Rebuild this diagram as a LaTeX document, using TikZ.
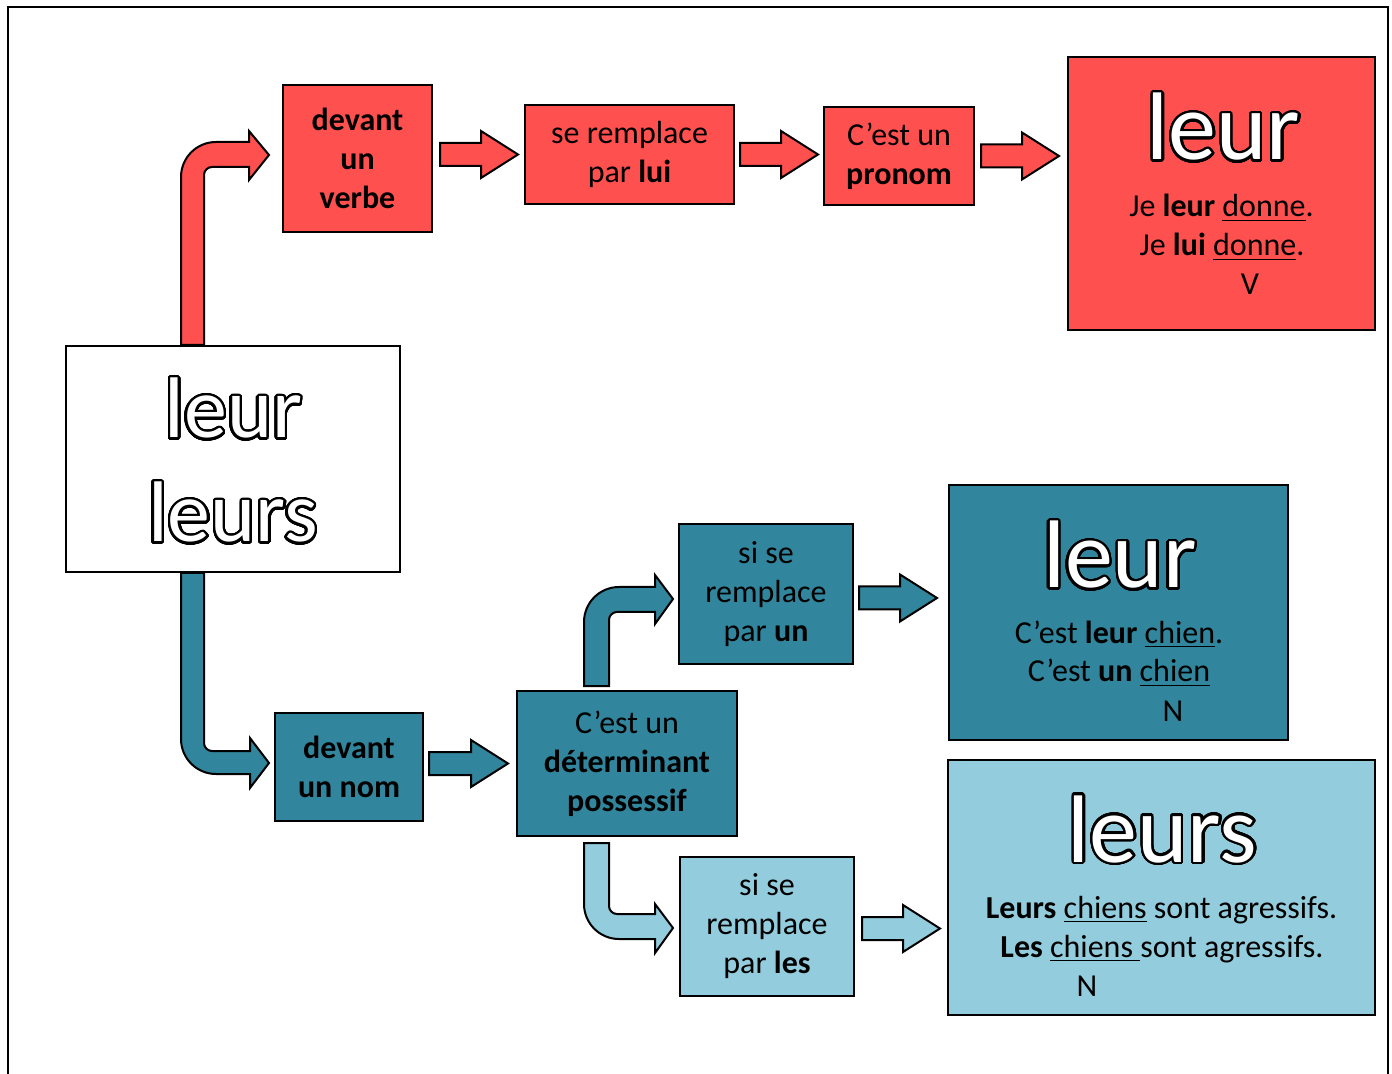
\documentclass[tikz,border=0pt]{standalone}
\usepackage{fontspec}
\setmainfont{Carlito}
\usepackage{xcolor}
\usepackage{contour}
\usetikzlibrary{calc}
\contourlength{1.2pt}
\contournumber{40}
\definecolor{rouge}{RGB}{255,80,80}
\definecolor{bleu}{RGB}{49,133,156}
\definecolor{bleuclair}{RGB}{147,205,221}
\newcommand{\grand}[1]{\textcolor{white}{\contour{black}{#1}}}
\newcommand{\souligne}[1]{\vtop{\hbox{#1}\kern1.2pt\hrule height 0.9pt}}
\newcommand{\flechedroite}[3]{%
\draw[bloc, fill=#1] ($(#2)+(0,-11.5)$) -- ($(#3)+(-37,-11.5)$) -- ($(#3)+(-37,-23.5)$) -- (#3)
  -- ($(#3)+(-37,23.5)$) -- ($(#3)+(-37,11.5)$) -- ($(#2)+(0,11.5)$) -- cycle;}

\begin{document}
\begin{tikzpicture}[x=0.5pt, y=-0.5pt,
  boite/.style={draw, line width=1pt, inner sep=0pt, align=center, font=\fontsize{16}{19.5}\selectfont},
  bloc/.style={draw, line width=1pt, line join=miter},
  texte/.style={anchor=base, inner sep=0pt, font=\fontsize{16}{19.5}\selectfont}]
\useasboundingbox (0,0) rectangle (1392,1074);
\draw [line width=1pt] (8,1074) -- (8,7) -- (1388,7) -- (1388,1074);

% boxes
\node[boite, fill=rouge, minimum width=74.5pt, minimum height=73.5pt] (verbe) at (357.5,158.5) {\textbf{devant}\\\textbf{un}\\\textbf{verbe}};
\node[boite, fill=rouge, minimum width=104.5pt, minimum height=49.5pt] (lui) at (629.5,154.5) {se remplace\\par \textbf{lui}};
\node[boite, fill=rouge, minimum width=75pt, minimum height=49pt] (pronom) at (899,156) {C’est un\\\textbf{pronom}};
\node[boite, fill=rouge, minimum width=153.5pt, minimum height=136.5pt] (bigred) at (1221.5,193.5) {};
\node[boite, fill=white, minimum width=167pt, minimum height=113pt] (start) at (233,459) {};
\node[boite, fill=bleu, minimum width=87pt, minimum height=70pt] (un) at (766,594) {si se\\remplace\\par \textbf{un}};
\node[boite, fill=bleu, minimum width=169.5pt, minimum height=127.5pt] (bigteal) at (1118.5,612.5) {};
\node[boite, fill=bleu, minimum width=74pt, minimum height=54pt] (nom) at (349,767) {\textbf{devant}\\\textbf{un nom}};
\node[boite, fill=bleu, minimum width=110pt, minimum height=72.5pt] (det) at (627,763.5) {C’est un\\\textbf{déterminant}\\\textbf{possessif}};
\node[boite, fill=bleuclair, minimum width=87pt, minimum height=69.5pt] (les) at (767,926.5) {si se\\remplace\\par \textbf{les}};
\node[boite, fill=bleuclair, minimum width=213.5pt, minimum height=127.5pt] (biglight) at (1161.5,887.5) {};

% texts of the big boxes
\node[texte, font=\fontsize{43}{52}\selectfont] (motleur) at (233.5,438) {\grand{leur}};
\node[texte, font=\fontsize{43}{52}\selectfont] (motleurs) at (233,542) {\grand{leurs}};

\node[texte, font=\fontsize{48}{58}\selectfont] (rougemot) at (1223.5,160) {\grand{leur}};
\node[texte] (rougeA) at (1221.5,217) {Je \textbf{leur} \souligne{donne}.};
\node[texte] (rougeB) at (1222,256) {Je \textbf{lui} \souligne{donne}.};
\node[texte] (rougeV) at (1250,295) {V};

\node[texte, font=\fontsize{48}{58}\selectfont] (bleumot) at (1120,588) {\grand{leur}};
\node[texte] (bleuA) at (1119,643) {C’est \textbf{leur} \souligne{chien}.};
\node[texte] (bleuB) at (1119,682) {C’est \textbf{un} \souligne{chien}};
\node[texte] (bleuN) at (1173,721) {N};

\node[texte, font=\fontsize{48}{58}\selectfont] (clairmot) at (1162.5,862) {\grand{leurs}};
\node[texte] (clairA) at (1161.5,918) {\textbf{Leurs} \souligne{chiens} sont agressifs.};
\node[texte] (clairB) at (1162,957) {\textbf{Les} \souligne{chiens\ }sont agressifs.};
\node[texte] (clairN) at (1087,996) {N};

% straight arrows
\coordinate (a1) at ($(verbe.east |- lui.west)+(7,0)$);
\coordinate (b1) at ($(lui.west)+(-6,0)$);
\coordinate (a2) at ($(lui.east)+(5,0)$);
\coordinate (b2) at ($(pronom.west |- lui.east)+(-5,0)$);
\coordinate (a3) at ($(pronom.east)+(6,0)$);
\coordinate (b3) at ($(bigred.west |- pronom.east)+(-8,0)$);
\coordinate (a4) at ($(nom.east |- det.west)+(5,0)$);
\coordinate (b4) at ($(det.west)+(-8,0)$);
\coordinate (a5) at ($(un.east)+(5,4)$);
\coordinate (b5) at ($(bigteal.west |- a5)+(-11,0)$);
\coordinate (a6) at ($(les.east)+(7,2)$);
\coordinate (b6) at ($(biglight.west |- a6)+(-7,0)$);
\flechedroite{rouge}{a1}{b1}
\flechedroite{rouge}{a2}{b2}
\flechedroite{rouge}{a3}{b3}
\flechedroite{bleu}{a4}{b4}
\flechedroite{bleu}{a5}{b5}
\flechedroite{bleuclair}{a6}{b6}

% bent arrows
\draw[bloc, fill=rouge] ($(start.north west)+(116,0)$) -- ++(0,-168)
  arc[start angle=180, end angle=90, radius=17.5pt] -- ++(33,0) -- ++(0,-11) -- ++(20,24)
  -- ++(-20,25) -- ++(0,-13) -- ++(-37,0) arc[start angle=90, end angle=180, radius=4pt]
  -- ($(start.north west)+(139,0)$) -- cycle;
\draw[bloc, fill=bleu] ($(start.south west)+(116,0)$) -- ++(0,166)
  arc[start angle=180, end angle=270, radius=17.5pt] -- ++(34,0) -- ++(0,14) -- ++(19,-25)
  -- ++(-19,-25) -- ++(0,13) -- ++(-38,0) arc[start angle=270, end angle=180, radius=4pt]
  -- ($(start.south west)+(139,0)$) -- cycle;
\draw[bloc, fill=bleu] ($(det.north west)+(68,-4)$) -- ++(0,-64)
  arc[start angle=180, end angle=90, radius=17.5pt] -- ++(36,0) -- ++(0,-12) -- ++(18,24)
  -- ++(-18,25) -- ++(0,-12) -- ++(-38,0) arc[start angle=90, end angle=180, radius=4pt]
  -- ($(det.north west)+(93,-4)$) -- cycle;
\draw[bloc, fill=bleuclair] ($(det.south west)+(68,6)$) -- ++(0,61)
  arc[start angle=180, end angle=270, radius=17.5pt] -- ++(36,0) -- ++(0,14) -- ++(18,-25)
  -- ++(-18,-24) -- ++(0,10) -- ++(-38,0) arc[start angle=270, end angle=180, radius=4pt]
  -- ($(det.south west)+(93,6)$) -- cycle;
\end{tikzpicture}
\end{document}
